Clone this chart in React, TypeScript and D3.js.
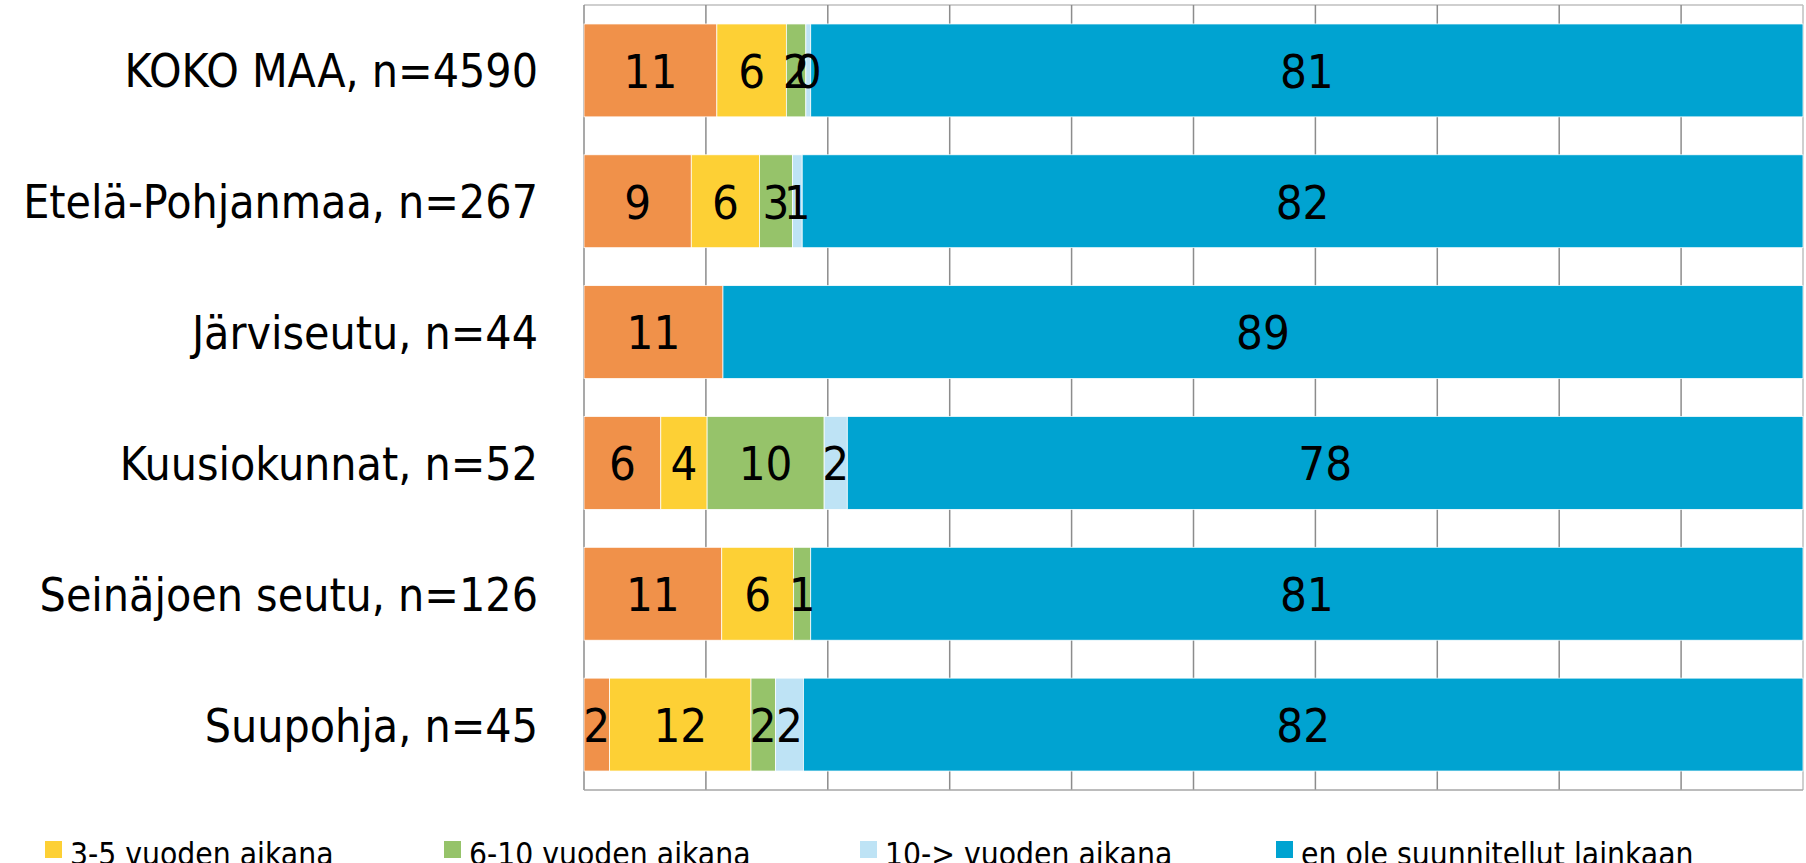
import React from "react";
import * as d3 from "d3";

const categories = [
  "KOKO MAA, n=4590",
  "Etelä-Pohjanmaa, n=267",
  "Järviseutu, n=44",
  "Kuusiokunnat, n=52",
  "Seinäjoen seutu, n=126",
  "Suupohja, n=45",
];

const seriesNames = [
  "alle 3 vuoden aikana",
  "3-5 vuoden aikana",
  "6-10 vuoden aikana",
  "10-> vuoden aikana",
  "en ole suunnitellut lainkaan",
];

const seriesColors = ["#F0914A", "#FDD035", "#96C36A", "#BEE3F5", "#00A3D1"];

// values per series, in category order
const alle3 = [10.9, 8.8, 11.4, 6.3, 11.3, 2.1];
const v3to5 = [5.7, 5.6, 0, 3.8, 5.9, 11.6];
const v6to10 = [1.6, 2.7, 0, 9.6, 1.4, 2.0];
const v10plus = [0.4, 0.8, 0, 1.9, 0, 2.3];
const eiLainkaan = [81.4, 82.1, 88.6, 78.4, 81.4, 82.0];

const seriesValues = [alle3, v3to5, v6to10, v10plus, eiLainkaan];

const xTicks = [0, 10, 20, 30, 40, 50, 60, 70, 80, 90, 100];

const legendItems = [1, 2, 3, 4];
const legendX = [45, 444, 860, 1276];

const W = 1806;
const H = 863;
const FONT = "'DejaVu Sans Condensed', 'DejaVu Sans', sans-serif";

export default function App() {
  React.useEffect(() => {
    document.body.style.margin = "0";
  }, []);

  const x = d3.scaleLinear().domain([0, 100]).range([584, 1803]);
  const y = d3
    .scaleBand<string>()
    .domain(categories)
    .range([5, 790])
    .paddingInner(0.29)
    .paddingOuter(0.145);

  const rows = categories.map((c, i) => {
    const obj: any = { cat: c };
    seriesValues.forEach((s, k) => (obj["s" + k] = s[i]));
    return obj;
  });
  const stack = d3.stack<any>().keys(seriesValues.map((_, k) => "s" + k));
  const stacked = stack(rows);

  return (
    <svg width={W} height={H} style={{ display: "block" }} fontFamily={FONT}>
      <rect width={W} height={H} fill="#ffffff" />
      {/* frame */}
      <line x1={584} x2={1803} y1={5} y2={5} stroke="#BFBFBF" strokeWidth={1.5} />
      {xTicks.map((t) => (
        <line
          key={t}
          x1={x(t)}
          x2={x(t)}
          y1={5}
          y2={790}
          stroke={t === 100 ? "#BFBFBF" : "#8C8C8C"}
          strokeWidth={1.5}
        />
      ))}
      <line x1={584} x2={1803} y1={790} y2={790} stroke="#A6A6A6" strokeWidth={1.5} />
      {/* bars */}
      {stacked.map((layer, k) => (
        <g key={k}>
          {layer.map((d, i) => {
            const w = x(d[1]) - x(d[0]);
            if (w <= 0) return null;
            return (
              <rect
                key={i}
                x={x(d[0])}
                y={y(categories[i])!}
                width={w}
                height={y.bandwidth()}
                fill={seriesColors[k]}
                stroke="#ffffff"
                strokeWidth={0.75}
              />
            );
          })}
        </g>
      ))}
      {/* data labels */}
      {stacked.map((layer, k) => (
        <g key={"l" + k}>
          {layer.map((d, i) => {
            const v = seriesValues[k][i];
            if (v <= 0) return null;
            return (
              <text
                key={i}
                x={(x(d[0]) + x(d[1])) / 2}
                y={y(categories[i])! + y.bandwidth() / 2}
                dy="0.37em"
                textAnchor="middle"
                fontSize={47}
                fill="#000000"
              >
                {Math.round(v)}
              </text>
            );
          })}
        </g>
      ))}
      {/* category labels */}
      {categories.map((c) => (
        <text
          key={c}
          x={538}
          y={y(c)! + y.bandwidth() / 2}
          dy="0.37em"
          textAnchor="end"
          fontSize={46}
          fill="#000000"
        >
          {c}
        </text>
      ))}
      {/* legend */}
      {legendItems.map((k, j) => (
        <g key={k}>
          <rect x={legendX[j]} y={841} width={17} height={17} fill={seriesColors[k]} />
          <text x={legendX[j] + 25} y={865} fontSize={31.5} fill="#000000">
            {seriesNames[k]}
          </text>
        </g>
      ))}
    </svg>
  );
}
